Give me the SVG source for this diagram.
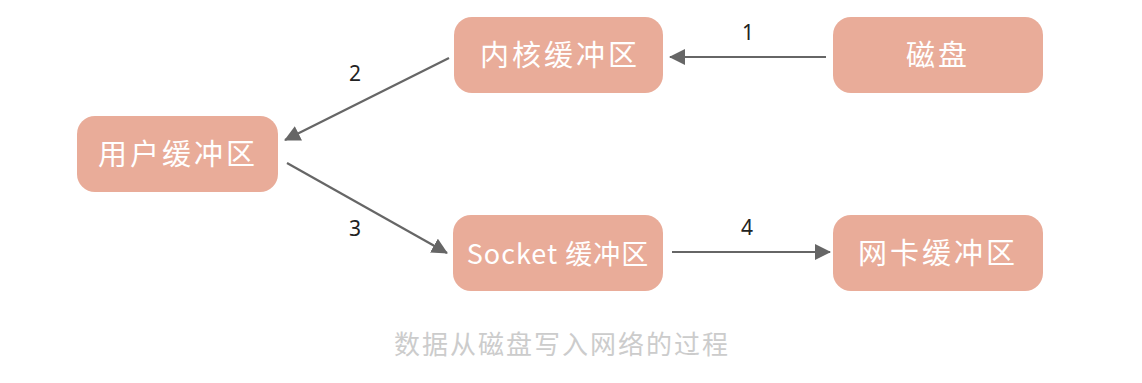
<svg xmlns="http://www.w3.org/2000/svg" width="1142" height="383" viewBox="0 0 1142 383">
<style>
.box{fill:#E9AC99;}
.lbl{font-family:"Noto Sans CJK SC","Noto Sans",sans-serif;font-size:29px;fill:#ffffff;text-anchor:middle;letter-spacing:3px;}
.edge{stroke:#666666;stroke-width:2.2;fill:none;}
.num{font-family:"Noto Sans","DejaVu Sans",sans-serif;font-size:21px;fill:#222222;text-anchor:middle;}
.cap{font-family:"Noto Sans CJK SC",sans-serif;font-size:26px;fill:#cccccc;text-anchor:middle;letter-spacing:2px;}
</style>
<defs>
<marker id="arr" viewBox="0 0 16 16" refX="15" refY="8" markerWidth="16" markerHeight="16" markerUnits="userSpaceOnUse" orient="auto">
<path d="M0,0 L16,8 L0,16 z" fill="#666666"/>
</marker>
</defs>
<rect width="1142" height="383" fill="#ffffff"/>
<g id="connectors">
<line class="edge" x1="826" y1="57" x2="670" y2="57" marker-end="url(#arr)"/>
<line class="edge" x1="449" y1="58" x2="285" y2="140" marker-end="url(#arr)"/>
<line class="edge" x1="287" y1="163" x2="447" y2="253" marker-end="url(#arr)"/>
<line class="edge" x1="672" y1="252" x2="830" y2="252" marker-end="url(#arr)"/>
<text class="num" x="748" y="40">1</text>
<text class="num" x="355" y="81">2</text>
<text class="num" x="355" y="236">3</text>
<text class="num" x="747" y="235">4</text>
</g>
<g id="node-kernel"><rect class="box" x="454" y="17" width="209" height="76" rx="18"/><text class="lbl" x="560" y="66">内核缓冲区</text></g>
<g id="node-disk"><rect class="box" x="833" y="17" width="210" height="76" rx="18"/><text class="lbl" x="938" y="66">磁盘</text></g>
<g id="node-user"><rect class="box" x="77" y="116" width="201" height="76" rx="18"/><text class="lbl" x="178" y="165">用户缓冲区</text></g>
<g id="node-socket"><rect class="box" x="453" y="215" width="210" height="76" rx="18"/><text class="lbl" x="558" y="264" style="font-size:27px;letter-spacing:1px">Socket 缓冲区</text></g>
<g id="node-nic"><rect class="box" x="833" y="215" width="210" height="76" rx="18"/><text class="lbl" x="938" y="264">网卡缓冲区</text></g>
<text class="cap" x="562" y="354">数据从磁盘写入网络的过程</text>
</svg>
